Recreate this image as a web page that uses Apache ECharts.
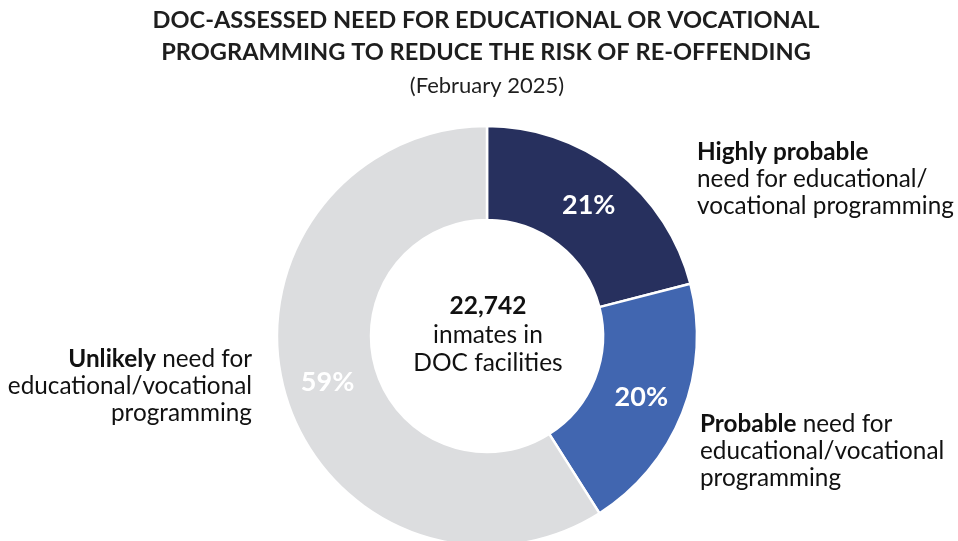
<!DOCTYPE html>
<html>
<head>
<meta charset="utf-8">
<script src="https://cdn.jsdelivr.net/npm/echarts@6/dist/echarts.min.js"></script>
<style>
  html, body { margin: 0; padding: 0; background: #fff; }
  #chart { width: 958px; height: 541px; }
</style>
</head>
<body>
<div id="chart"></div>
<script>
// Share of inmates by assessed programming need (percent)
const categories = ['Highly probable', 'Probable', 'Unlikely'];
const shares = [21, 20, 59];
const segmentColors = ['#27305e', '#4166b0', '#dcdddf'];
const totalInmates = '22,742';

const FONT = 'Lato, "Open Sans", sans-serif';

const chart = echarts.init(document.getElementById('chart'), null, { renderer: 'canvas' });

function textBlock(text, x, y, align, size, lineHeight, boldLineHeight) {
  return {
    type: 'text',
    z: 10,
    style: {
      text, x, y,
      align, verticalAlign: 'middle',
      fontFamily: FONT, fontSize: size, lineHeight, fill: '#111',
      rich: { b: { fontFamily: FONT, fontSize: size, fontWeight: 'bold', lineHeight: boldLineHeight || lineHeight, fill: '#111' } }
    }
  };
}

const option = {
  backgroundColor: '#ffffff',
  series: [{
    type: 'pie',
    center: [487, 336],
    radius: [116, 210],
    startAngle: 90,
    clockwise: true,
    silent: true,
    animation: false,
    itemStyle: { borderColor: '#ffffff', borderWidth: 2.5 },
    label: {
      show: true,
      position: 'inside',
      formatter: '{c}%',
      color: '#ffffff',
      fontFamily: FONT,
      fontSize: 27,
      fontWeight: 'bold'
    },
    labelLine: { show: false },
    data: categories.map((name, i) => ({
      name,
      value: shares[i],
      itemStyle: { color: segmentColors[i] }
    }))
  }],
  graphic: [
    // Chart heading and date
    {
      type: 'text',
      z: 10,
      style: {
        text: 'DOC-ASSESSED NEED FOR EDUCATIONAL OR VOCATIONAL\nPROGRAMMING TO REDUCE THE RISK OF RE-OFFENDING',
        x: 486, y: 36,
        align: 'center', verticalAlign: 'middle',
        fontFamily: FONT, fontSize: 23.6, fontWeight: 'bold', lineHeight: 32, fill: '#1e1e1e'
      }
    },
    {
      type: 'text',
      z: 10,
      style: {
        text: '(February 2025)',
        x: 487, y: 86,
        align: 'center', verticalAlign: 'middle',
        fontFamily: FONT, fontSize: 22, fill: '#1e1e1e'
      }
    },
    // Total in the donut hole
    textBlock('{b|' + totalInmates + '}\ninmates in\nDOC facilities', 488, 334, 'center', 24.5, 28, 31),
    // Category descriptions
    textBlock('{b|Highly probable}\nneed for educational/\nvocational programming', 697, 179, 'left', 24.3, 27),
    textBlock('{b|Probable} need for\neducational/vocational\nprogramming', 700, 451, 'left', 24.3, 27),
    textBlock('{b|Unlikely} need for\neducational/vocational\nprogramming', 252, 386, 'right', 24.3, 27)
  ]
};

chart.setOption(option);
</script>
</body>
</html>
